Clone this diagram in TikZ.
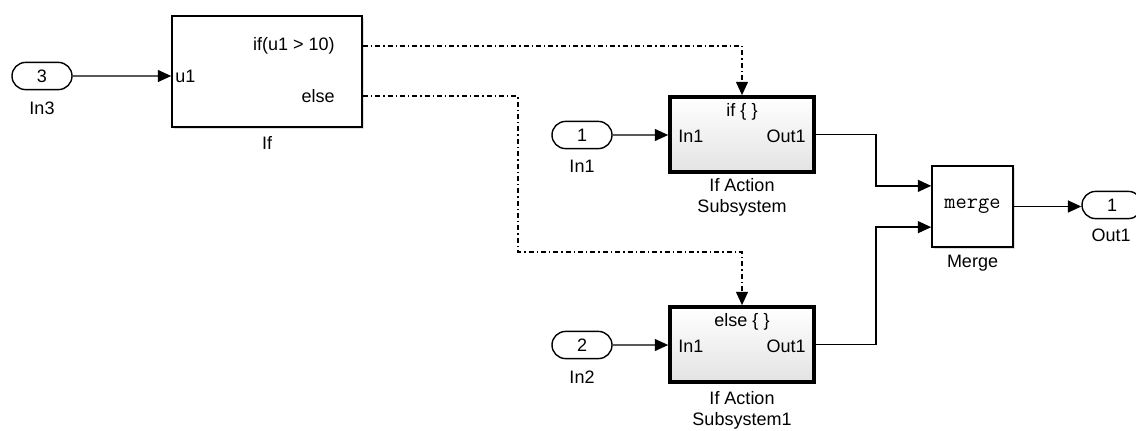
\documentclass[tikz,border=0pt]{standalone}
\usepackage{fontspec}
\setmainfont{Liberation Sans}
\usetikzlibrary{arrows.meta}
\usetikzlibrary{shapes.misc}
\usetikzlibrary{shadows}
\usetikzlibrary{calc}
\tikzset{port/.style = {rounded rectangle, draw, line width=1pt,
                        minimum width=1.5cm, minimum height=0.68cm, inner sep=0pt},
         blk/.style = {draw, line width=1.1pt, fill=white, inner sep=0pt,
                       drop shadow={shadow xshift=1.2pt, shadow yshift=-1.2pt, opacity=0.25}},
         actblk/.style = {blk, line width=2.6pt, top color=white, bottom color=gray!22,
                          minimum width=3.6cm, minimum height=1.875cm},
         txt/.style = {inner sep=0pt},
         sig/.style = {line width=1pt, -{Triangle[length=9.5pt,width=8.5pt]}},
         ctl/.style = {sig, dash pattern=on 3.6pt off 2.1pt on 1pt off 2.1pt}}

\begin{document}
\begin{tikzpicture}[x=0.025cm, y=-0.025cm, font=\fontsize{12.8}{15}\selectfont]
    \useasboundingbox (0, 0) rectangle (1136, 430);

    \node [port] (in3) at (42, 76) {3};
    \node [txt] (in3lbl) at (42, 108) {In3};
    \node [port] (in1) at (582, 135) {1};
    \node [txt] (in1lbl) at (582, 166) {In1};
    \node [port] (in2) at (582, 345) {2};
    \node [txt] (in2lbl) at (582, 377) {In2};
    \node [port] (out1) at (1112, 205) {1};
    \node [txt] (out1lbl) at (1111, 235) {Out1};

    \node [blk, minimum width=4.75cm, minimum height=2.775cm] (ifblk) at (267, 71.5) {};
    \node [txt, anchor=west] (u1) at (175, 76) {u1};
    \node [txt, anchor=east] (ifport) at (335, 46) {if(u1 > 10)};
    \node [txt, anchor=east] (elseport) at (335, 96) {else};
    \node [txt] (iflbl) at (267, 143) {If};

    \node [actblk] (act1) at (742, 134.5) {};
    \node [txt] (act1if) at (742, 112) {if \{ \}};
    \node [txt, anchor=west] (act1in) at (678, 136) {In1};
    \node [txt, anchor=east] (act1out) at (806, 136) {Out1};
    \node [txt, align=center] (act1lbl) at (742, 197) {If Action\\Subsystem};

    \node [actblk] (act2) at (742, 344.5) {};
    \node [txt] (act2else) at (742, 322) {else \{ \}};
    \node [txt, anchor=west] (act2in) at (678, 346) {In1};
    \node [txt, anchor=east] (act2out) at (806, 346) {Out1};
    \node [txt, align=center] (act2lbl) at (742, 410) {If Action\\Subsystem1};

    \node [blk, minimum width=2.025cm, minimum height=2.025cm] (merge) at (972.5, 206.5)
          {\ttfamily\fontsize{15.5}{16}\selectfont merge};
    \node [txt] (mergelbl) at (972.5, 263) {Merge};

    \coordinate (min1) at ($(merge.north west)!0.25!(merge.south west)$);
    \coordinate (min2) at ($(merge.north west)!0.75!(merge.south west)$);
    \coordinate (elbow) at (518, 252);

    \draw [sig] (in3) -- (in3 -| ifblk.west);
    \draw [sig] (in1) -- (in1 -| act1.west);
    \draw [sig] (in2) -- (in2 -| act2.west);
    \draw [ctl] (ifblk.east |- ifport) -| (act1.north);
    \draw [ctl] (ifblk.east |- elseport) -| (elbow) -| (act2.north);
    \draw [sig] (act1.east) -- ++(60, 0) |- (min1);
    \draw [sig] (act2.east) -- ++(60, 0) |- (min2);
    \draw [sig] (merge) -- (merge -| out1.west);
\end{tikzpicture}
\end{document}
